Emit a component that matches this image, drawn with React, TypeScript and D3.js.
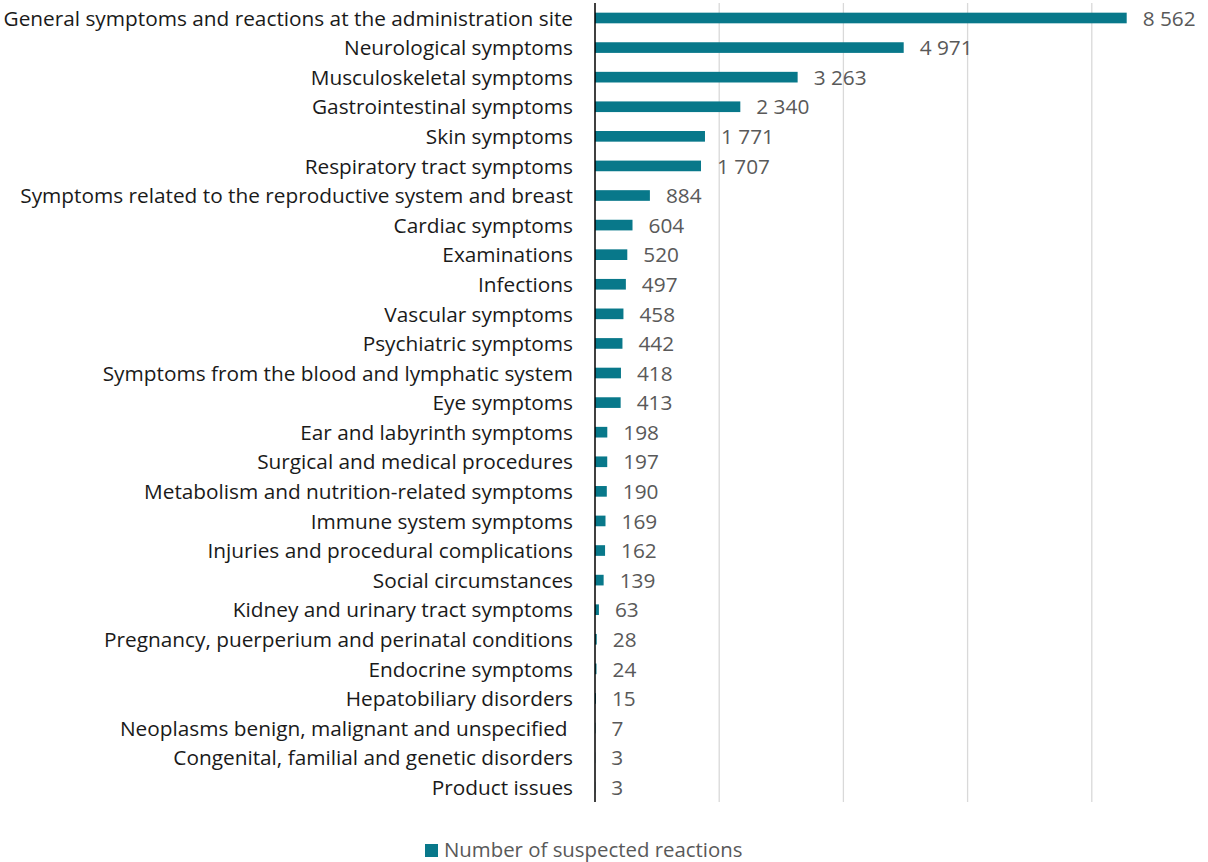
import React, { useEffect, useRef } from 'react';
import * as d3 from 'd3';

const categories = [
  'General symptoms and reactions at the administration site',
  'Neurological symptoms',
  'Musculoskeletal symptoms',
  'Gastrointestinal symptoms',
  'Skin symptoms',
  'Respiratory tract symptoms',
  'Symptoms related to the reproductive system and breast',
  'Cardiac symptoms',
  'Examinations',
  'Infections',
  'Vascular symptoms',
  'Psychiatric symptoms',
  'Symptoms from the blood and lymphatic system',
  'Eye symptoms',
  'Ear and labyrinth symptoms',
  'Surgical and medical procedures',
  'Metabolism and nutrition-related symptoms',
  'Immune system symptoms',
  'Injuries and procedural complications',
  'Social circumstances',
  'Kidney and urinary tract symptoms',
  'Pregnancy, puerperium and perinatal conditions',
  'Endocrine symptoms',
  'Hepatobiliary disorders',
  'Neoplasms benign, malignant and unspecified ',
  'Congenital, familial and genetic disorders',
  'Product issues',
];

const reactions = [
  8562, 4971, 3263, 2340, 1771, 1707, 884, 604, 520, 497, 458, 442, 418, 413,
  198, 197, 190, 169, 162, 139, 63, 28, 24, 15, 7, 3, 3,
];

const gridTicks = [0, 2000, 4000, 6000, 8000];
const seriesName = 'Number of suspected reactions';

const W = 1208;
const H = 862;
const FONT = "'Open Sans', sans-serif";
const FS = 20.8;
const BAR = '#08788A';

const App = () => {
  const svgRef = useRef<SVGSVGElement>(null);

  useEffect(() => {
    const svg = d3.select(svgRef.current);
    svg.selectAll('*').remove();

    const x = d3.scaleLinear().domain([0, 10000]).range([595, 1216]);
    const y = d3
      .scaleBand<string>()
      .domain(categories)
      .range([3.2, 802])
      .paddingInner(0.64)
      .paddingOuter(0.32);

    // gridlines
    svg
      .append('g')
      .selectAll('line')
      .data(gridTicks.slice(1))
      .enter()
      .append('line')
      .attr('x1', (d) => x(d))
      .attr('x2', (d) => x(d))
      .attr('y1', 3)
      .attr('y2', 802)
      .attr('stroke', '#d9d9d9')
      .attr('stroke-width', 1.3);

    const rows = categories.map((c, i) => ({ c, v: reactions[i] }));

    svg
      .append('g')
      .selectAll('rect')
      .data(rows)
      .enter()
      .append('rect')
      .attr('x', x(0))
      .attr('y', (d) => y(d.c)!)
      .attr('width', (d) => x(d.v) - x(0))
      .attr('height', y.bandwidth())
      .attr('fill', BAR);

    // axis line
    svg
      .append('line')
      .attr('x1', x(0))
      .attr('x2', x(0))
      .attr('y1', 3)
      .attr('y2', 802)
      .attr('stroke', '#000')
      .attr('stroke-width', 1.5);

    // category labels
    svg
      .append('g')
      .selectAll('text')
      .data(rows)
      .enter()
      .append('text')
      .attr('x', 573)
      .attr('y', (d) => y(d.c)! + y.bandwidth() / 2)
      .attr('dy', '0.37em')
      .attr('text-anchor', 'end')
      .attr('font-family', FONT)
      .attr('font-size', FS)
      .attr('fill', '#1a1a1a')
      .style('white-space', 'pre')
      .text((d) => d.c);

    const fmt = (v: number) => d3.format(',')(v).replace(/,/g, ' ');

    // value labels
    svg
      .append('g')
      .selectAll('text')
      .data(rows)
      .enter()
      .append('text')
      .attr('x', (d) => x(d.v) + 16)
      .attr('y', (d) => y(d.c)! + y.bandwidth() / 2)
      .attr('dy', '0.37em')
      .attr('font-family', FONT)
      .attr('font-size', FS)
      .attr('fill', '#595959')
      .text((d) => fmt(d.v));

    // legend
    const lg = svg.append('g');
    lg.append('rect')
      .attr('x', 425)
      .attr('y', 844)
      .attr('width', 13)
      .attr('height', 13)
      .attr('fill', BAR);
    lg.append('text')
      .attr('x', 444)
      .attr('y', 857)
      .attr('font-family', FONT)
      .attr('font-size', FS * 0.98)
      .attr('fill', '#595959')
      .text(seriesName);
  }, []);

  return (
    <svg
      ref={svgRef}
      width={W}
      height={H}
      style={{ position: 'absolute', left: 0, top: 0, background: '#fff' }}
    />
  );
};

export default App;
